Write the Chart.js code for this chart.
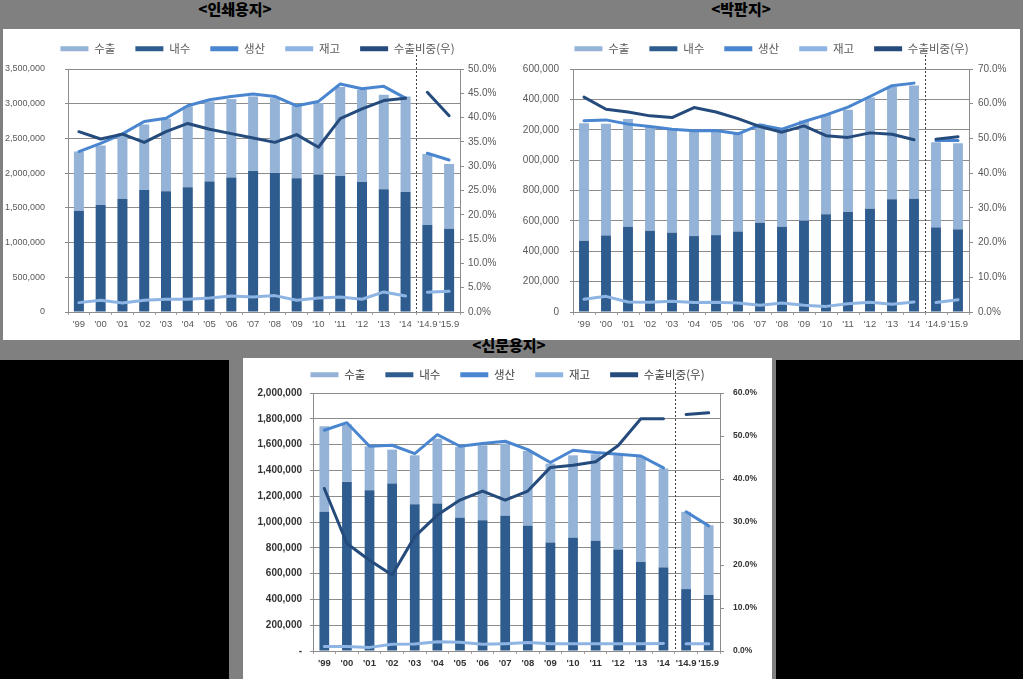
<!DOCTYPE html>
<html>
<head>
<meta charset="utf-8">
<script src="https://cdn.jsdelivr.net/npm/chart.js"></script>
<style>
body { margin: 0; width: 1023px; height: 679px; background: #000; position: relative; overflow: hidden; font-family: 'Noto Sans CJK KR', sans-serif; }
.frame { position: absolute; background: #808080; }
.box { position: absolute; background: #fff; }
.title { position: absolute; font-weight: 900; font-size: 15px; color: #000; transform: translateX(-50%); line-height: 18px; white-space: nowrap; }
canvas { position: absolute; }
</style>
</head>
<body>
<div class="frame" style="left:0;top:0;width:1023px;height:360px"></div>
<div class="box" style="left:3px;top:29px;width:1017px;height:311px"></div>
<div class="frame" style="left:229px;top:340px;width:547px;height:339px"></div>
<div class="box" style="left:243px;top:358px;width:529px;height:321px"></div>
<div class="title" style="left:235px;top:0">&lt;인쇄용지&gt;</div>
<div class="title" style="left:741px;top:0">&lt;박판지&gt;</div>
<div class="title" style="left:509px;top:336px">&lt;신문용지&gt;</div>

<canvas id="c1" width="509" height="317" style="left:3px;top:23px"></canvas>
<canvas id="c2" width="497" height="317" style="left:523px;top:23px"></canvas>
<canvas id="c3" width="529" height="330" style="left:243px;top:349px"></canvas>

<script>
// categories
const years = ["'99", "'00", "'01", "'02", "'03", "'04", "'05", "'06", "'07", "'08", "'09", "'10", "'11", "'12", "'13", "'14", "'14.9", "'15.9"];

// 인쇄용지
const printExport = [852000, 857000, 944000, 944000, 1045000, 1165000, 1155000, 1131000, 1073000, 1078000, 1045000, 1030000, 1280000, 1329000, 1363000, 1377000, 1025000, 934000];
const printDomestic = [1459000, 1541000, 1632000, 1757000, 1738000, 1796000, 1878000, 1936000, 2032000, 2003000, 1926000, 1979000, 1960000, 1873000, 1767000, 1728000, 1252000, 1199000];
const printProduction = [2311000, 2430000, 2566000, 2744000, 2790000, 2970000, 3057000, 3105000, 3139000, 3105000, 2970000, 3033000, 3284000, 3216000, 3250000, 3081000, 2287000, 2190000];
const printInventory = [135000, 169000, 130000, 169000, 183000, 183000, 202000, 231000, 217000, 236000, 169000, 202000, 217000, 183000, 289000, 231000, 284000, 298000];
const printShare = [37.1, 35.6, 36.6, 34.9, 37.1, 38.8, 37.6, 36.7, 35.8, 34.9, 36.5, 33.9, 39.8, 41.8, 43.5, 44.0, 45.2, 40.4];

// 박판지
const boardExport = [774000, 735000, 709000, 686000, 682000, 688000, 682000, 647000, 651000, 638000, 660000, 655000, 673000, 733000, 739000, 746000, 561000, 567000];
const boardDomestic = [469000, 504000, 561000, 535000, 522000, 500000, 506000, 530000, 588000, 561000, 601000, 643000, 658000, 680000, 742000, 746000, 557000, 544000];
const boardProduction = [1259000, 1265000, 1237000, 1221000, 1204000, 1193000, 1195000, 1173000, 1232000, 1204000, 1254000, 1298000, 1349000, 1419000, 1490000, 1507000, 1129000, 1129000];
const boardInventory = [84000, 103000, 66000, 64000, 70000, 62000, 64000, 59000, 44000, 59000, 44000, 37000, 55000, 64000, 51000, 66000, 62000, 81000];
const boardShare = [61.9, 58.4, 57.6, 56.5, 56.0, 58.9, 57.6, 55.7, 53.4, 51.8, 53.6, 50.8, 50.3, 51.6, 51.2, 49.6, 49.8, 50.5];

// 신문용지
const newsExport = [663000, 446000, 341000, 263000, 379000, 503000, 550000, 581000, 560000, 581000, 612000, 640000, 671000, 730000, 816000, 766000, 599000, 541000];
const newsDomestic = [1079000, 1311000, 1246000, 1298000, 1138000, 1143000, 1032000, 1014000, 1048000, 970000, 841000, 877000, 854000, 787000, 689000, 648000, 480000, 434000];
const newsProduction = [1711000, 1770000, 1587000, 1595000, 1530000, 1677000, 1587000, 1608000, 1626000, 1561000, 1461000, 1556000, 1538000, 1525000, 1512000, 1419000, 1079000, 970000];
const newsInventory = [34000, 34000, 28000, 52000, 54000, 72000, 67000, 52000, 57000, 65000, 57000, 57000, 57000, 57000, 57000, 59000, 57000, 57000];
const newsShare = [37.8, 25.0, 21.1, 17.7, 26.6, 31.6, 35.1, 37.2, 35.1, 37.2, 42.7, 43.2, 44.0, 47.8, 54.0, 54.0, 55.0, 55.4];

const C_EXP = '#95B3D7';
const C_DOM = '#2F5C8F';
const C_PROD = '#4A86CF';
const C_INV = '#8EB4E3';
const C_SHARE = '#254B7C';
const GRID = '#8c8c8c';

Chart.defaults.font.family = "'Liberation Sans', 'Noto Sans CJK KR', sans-serif";
Chart.defaults.animation = false;

// no line between '14 and '14.9
const gap = { borderColor: ctx => ctx.p0DataIndex === 15 ? 'rgba(0,0,0,0)' : undefined };

const splitLine = {
    id: 'splitLine',
    afterDatasetsDraw(chart) {
        const x = chart.scales.x;
        const ctx = chart.ctx;
        const px = Math.round((x.getPixelForValue(15) + x.getPixelForValue(16)) / 2) + 0.5;
        ctx.save();
        ctx.strokeStyle = '#404040';
        ctx.lineWidth = 1;
        ctx.setLineDash([2, 2]);
        ctx.beginPath();
        ctx.moveTo(px, chart.chartArea.top - 14);
        ctx.lineTo(px, chart.chartArea.bottom);
        ctx.stroke();
        ctx.restore();
    }
};

function lineSet(label, data, color, order, stack, axis) {
    return {
        type: 'line', label: label, data: data, yAxisID: axis, stack: stack, order: order,
        borderColor: color, backgroundColor: color, borderWidth: 3, pointRadius: 0,
        tension: 0, borderJoinStyle: 'round', borderCapStyle: 'round', segment: gap
    };
}

function makeChart(id, d) {
    const legendFix = {
        id: 'legendFix',
        beforeInit(chart) {
            const fit = chart.legend.fit;
            chart.legend.fit = function () {
                fit.call(this);
                this.height = d.legendH;
            };
        }
    };

    return new Chart(document.getElementById(id), {
        data: {
            labels: years,
            datasets: [
                { type: 'bar', label: '수출', data: d.exp, backgroundColor: C_EXP, borderColor: C_EXP, stack: 'b', order: 4, barPercentage: d.barPct, categoryPercentage: 1 },
                { type: 'bar', label: '내수', data: d.dom, backgroundColor: C_DOM, borderColor: C_DOM, stack: 'b', order: 3, barPercentage: d.barPct, categoryPercentage: 1 },
                lineSet('생산', d.prod, C_PROD, 1, 'p', 'y'),
                lineSet('재고', d.inv, C_INV, 2, 'i', 'y'),
                lineSet('수출비중(우)', d.share, C_SHARE, 0, 'r', 'y1')
            ]
        },
        options: {
            responsive: false,
            layout: { padding: 0 },
            plugins: {
                tooltip: { enabled: false },
                legend: {
                    position: 'top',
                    labels: {
                        boxWidth: 28, boxHeight: 5, padding: 20, color: d.legendColor,
                        font: { family: "'Noto Sans CJK KR', sans-serif", size: 11.5 },
                        sort: (a, b) => a.datasetIndex - b.datasetIndex,
                        generateLabels: chart => Chart.defaults.plugins.legend.labels.generateLabels(chart)
                            .map(l => Object.assign(l, { lineWidth: 0, fillStyle: l.strokeStyle }))
                    }
                }
            },
            scales: {
                x: {
                    afterFit: s => { s.height = 28; },
                    grid: { drawOnChartArea: false, offset: true, tickLength: 3, color: '#b09a9a' },
                    border: { display: true, color: GRID },
                    ticks: { autoSkip: false, maxRotation: 0, padding: 4, color: d.tickColor, font: { size: d.xFont, weight: d.weight } }
                },
                y: {
                    stacked: true, min: 0, max: d.max,
                    afterFit: s => { s.width = d.leftW; },
                    grid: { color: GRID, tickLength: 3 },
                    border: { display: true, color: GRID },
                    ticks: {
                        stepSize: d.step, padding: d.leftPad, color: d.tickColor,
                        font: { size: d.leftFont, weight: d.weight },
                        callback: v => (v === 0 && d.dash) ? '-' : v.toLocaleString('en-US')
                    }
                },
                y1: {
                    position: 'right', min: 0, max: d.rmax,
                    afterFit: s => { s.width = d.rightW; },
                    grid: { drawOnChartArea: false, tickLength: 4, color: GRID },
                    border: { display: true, color: GRID },
                    ticks: {
                        stepSize: d.rstep, padding: d.rightPad, color: d.tickColor,
                        font: { size: d.rightFont, weight: d.weight },
                        callback: v => v.toFixed(1) + '%'
                    }
                }
            }
        },
        plugins: [legendFix, splitLine]
    });
}

makeChart('c1', {
    exp: printExport, dom: printDomestic, prod: printProduction, inv: printInventory, share: printShare,
    max: 3500000, step: 500000, rmax: 50, rstep: 5, barPct: 0.46,
    legendH: 46, leftW: 65, rightW: 52, leftPad: 20, rightPad: 4,
    leftFont: 9, rightFont: 10, xFont: 9.5, weight: 'normal', tickColor: '#595959', legendColor: '#595959', dash: false
});

makeChart('c2', {
    exp: boardExport, dom: boardDomestic, prod: boardProduction, inv: boardInventory, share: boardShare,
    max: 1600000, step: 200000, rmax: 70, rstep: 10, barPct: 0.45,
    legendH: 46, leftW: 50, rightW: 51, leftPad: 11, rightPad: 5,
    leftFont: 10, rightFont: 10, xFont: 9.5, weight: 'normal', tickColor: '#595959', legendColor: '#595959', dash: false
});

makeChart('c3', {
    exp: newsExport, dom: newsDomestic, prod: newsProduction, inv: newsInventory, share: newsShare,
    max: 2000000, step: 200000, rmax: 60, rstep: 10, barPct: 0.43,
    legendH: 44, leftW: 70, rightW: 52, leftPad: 8, rightPad: 9,
    leftFont: 10, rightFont: 8.5, xFont: 9.5, weight: 'bold', tickColor: '#333333', legendColor: '#404040', dash: true
});
</script>
</body>
</html>
